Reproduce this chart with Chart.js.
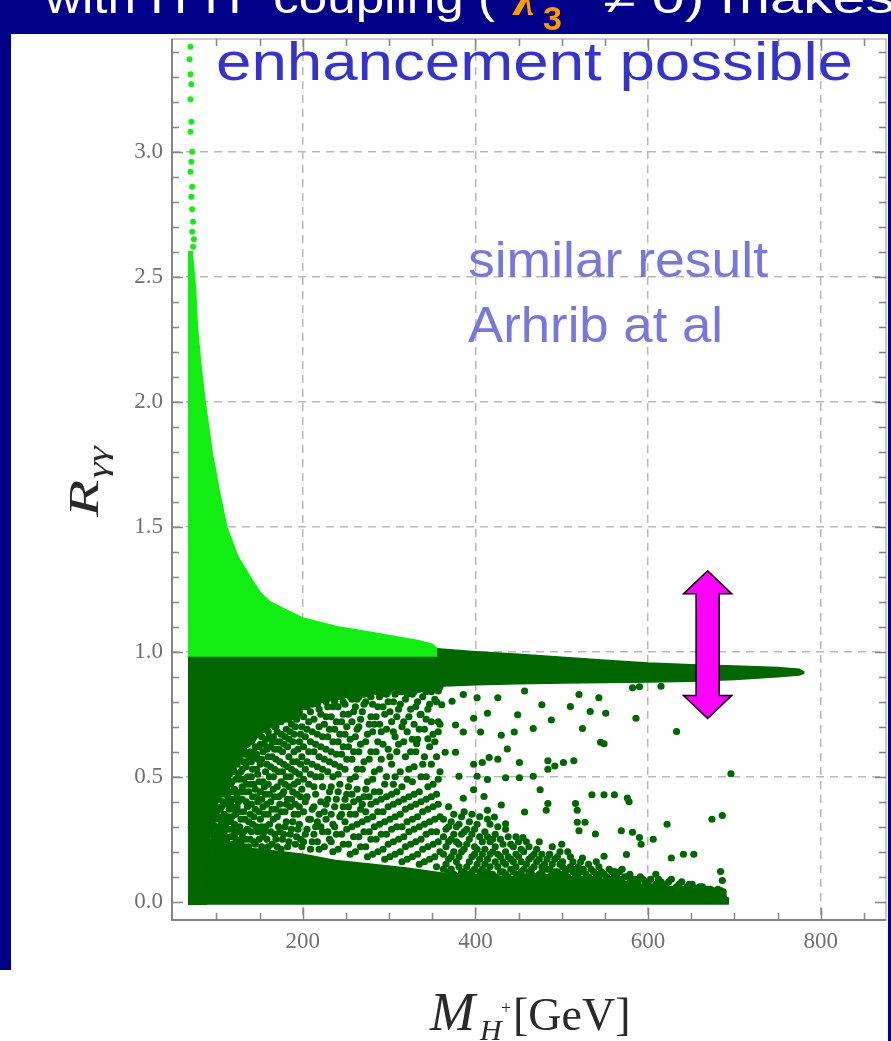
<!DOCTYPE html>
<html>
<head>
<meta charset="utf-8">
<script src="https://cdn.jsdelivr.net/npm/chart.js@4.4.1/dist/chart.umd.min.js"></script>
<style>
  html, body { margin: 0; padding: 0; background: #fff; overflow: hidden; }
  canvas { display: block; }
</style>
</head>
<body>
<canvas id="chart" width="891" height="1041"></canvas>
<script>
'use strict'

// axis ticks
const xTicks = [200, 400, 600, 800]
const yTicks = [0, 0.5, 1, 1.5, 2, 2.5, 3]

// light green plume above R = 0.98 (upper edge)
const lightX = [67, 72, 76, 78, 82, 87, 95, 103, 112, 125, 139, 150, 162, 185, 200, 240, 275, 333, 350, 356]
const lightR = [2.6, 2.6, 2.45, 2.3, 2.15, 2.0, 1.8, 1.65, 1.5, 1.38, 1.3, 1.24, 1.2, 1.16, 1.135, 1.1, 1.08, 1.045, 1.03, 1.012]

// loose light points at the top of the spike
const spikeDots = [[70, 3.42], [69, 3.37], [70, 3.31], [71, 3.27], [70, 3.21], [71, 3.12], [70, 3.08], [72, 3.0],
  [71, 2.96], [70, 2.92], [72, 2.86], [71, 2.82], [72, 2.77], [73, 2.72], [72, 2.68], [74, 2.65], [73, 2.62]]

// dark green band: top edge and top of the empty pocket below it (same x)
const bandX = [67, 88, 90, 95, 100, 110, 127, 150, 175, 197, 225, 255, 300, 350, 356, 400, 450, 500, 550, 600, 650, 700, 750, 775, 781]
const bandTop = [0.98, 0.98, 0.98, 0.98, 0.98, 0.98, 0.98, 0.98, 0.98, 0.98, 0.98, 0.98, 0.98, 0.98,
  1.012, 1.0, 0.99, 0.978, 0.966, 0.955, 0.948, 0.943, 0.937, 0.93, 0.918]
const pocketTop = [-0.01, -0.01, 0.22, 0.3, 0.4, 0.5, 0.59, 0.665, 0.73, 0.77, 0.8, 0.82, 0.845, 0.86,
  0.862, 0.868, 0.872, 0.875, 0.877, 0.879, 0.882, 0.889, 0.9, 0.907, 0.915]

// dark green floor (upper edge)
const floorX = [67, 90, 110, 150, 200, 238, 280, 320, 361, 400, 440, 484, 520, 560, 606, 640, 670, 684, 694]
const floorTop = [0.3, 0.23, 0.22, 0.21, 0.19, 0.165, 0.15, 0.135, 0.115, 0.11, 0.1, 0.094, 0.085, 0.07, 0.055, 0.045, 0.038, 0.03, 0.012]

// dots inside the pocket, column by column: [M, [R...]]
const pocketCols = [
  [94, [0.24, 0.29]], [97, [0.26, 0.33, 0.37]], [100, [0.23, 0.3, 0.36]], [103, [0.27, 0.34, 0.41, 0.45]],
  [106, [0.24, 0.31, 0.38, 0.47]], [109, [0.28, 0.35, 0.43, 0.49]], [112, [0.25, 0.32, 0.4, 0.46, 0.53]],
  [115, [0.29, 0.37, 0.44, 0.51]], [118, [0.23, 0.34, 0.41, 0.48, 0.56]], [121, [0.27, 0.31, 0.45, 0.52, 0.58]],
  [124, [0.24, 0.38, 0.43, 0.55, 0.6]], [127, [0.3, 0.36, 0.49, 0.57]], [130, [0.26, 0.41, 0.46, 0.53, 0.62]],
  [133, [0.22, 0.33, 0.44, 0.59, 0.64]], [136, [0.29, 0.38, 0.5, 0.56, 0.63]], [139, [0.25, 0.35, 0.47, 0.6, 0.66]],
  [142, [0.31, 0.42, 0.53, 0.58, 0.65]], [145, [0.23, 0.37, 0.45, 0.62, 0.68]], [148, [0.28, 0.4, 0.51, 0.57, 0.67]],
  [151, [0.33, 0.44, 0.55, 0.63, 0.69]], [154, [0.26, 0.38, 0.48, 0.6, 0.7]], [157, [0.3, 0.43, 0.52, 0.65, 0.71]],
  [160, [0.22, 0.35, 0.47, 0.58, 0.68]], [163, [0.28, 0.4, 0.54, 0.62, 0.72]], [166, [0.33, 0.45, 0.5, 0.66, 0.73]],
  [169, [0.25, 0.37, 0.57, 0.64, 0.7]], [172, [0.3, 0.42, 0.52, 0.61, 0.74]], [175, [0.21, 0.36, 0.48, 0.67, 0.72]],
  [178, [0.27, 0.44, 0.55, 0.63, 0.75]], [181, [0.32, 0.39, 0.5, 0.69, 0.76]], [184, [0.24, 0.46, 0.58, 0.65, 0.73]],
  [187, [0.29, 0.41, 0.53, 0.71, 0.77]], [190, [0.35, 0.47, 0.6, 0.67, 0.75]], [193, [0.26, 0.43, 0.56, 0.73, 0.78]],
  [196, [0.31, 0.38, 0.51, 0.64, 0.76]], [199, [0.22, 0.45, 0.58, 0.7, 0.79]],
  [203, [0.27, 0.4, 0.53, 0.66, 0.78]], [207, [0.33, 0.47, 0.6, 0.72, 0.8]], [211, [0.24, 0.37, 0.55, 0.68, 0.79]],
  [215, [0.3, 0.43, 0.5, 0.63, 0.81]], [219, [0.21, 0.35, 0.58, 0.7, 0.77]], [223, [0.28, 0.46, 0.53, 0.66, 0.82]],
  [227, [0.33, 0.39, 0.61, 0.74, 0.8]], [231, [0.25, 0.44, 0.56, 0.69, 0.83]], [235, [0.2, 0.31, 0.5, 0.64, 0.78]],
  [239, [0.27, 0.41, 0.59, 0.72, 0.82]], [243, [0.34, 0.47, 0.54, 0.67, 0.84]], [247, [0.23, 0.38, 0.62, 0.75, 0.8]],
  [251, [0.29, 0.43, 0.57, 0.7, 0.83]], [255, [0.19, 0.35, 0.49, 0.65, 0.82]], [259, [0.26, 0.4, 0.6, 0.76, 0.84]],
  [263, [0.31, 0.45, 0.53, 0.69, 0.81]], [267, [0.22, 0.37, 0.63, 0.73, 0.85]], [271, [0.28, 0.42, 0.56, 0.79, 0.83]],
  [275, [0.18, 0.33, 0.48, 0.67, 0.84]], [279, [0.25, 0.39, 0.6, 0.74, 0.82]], [283, [0.3, 0.44, 0.52, 0.71, 0.85]],
  [287, [0.2, 0.36, 0.64, 0.78, 0.84]], [291, [0.27, 0.41, 0.57, 0.68, 0.83]], [295, [0.17, 0.32, 0.47, 0.75, 0.85]],
  [299, [0.23, 0.38, 0.61, 0.8, 0.84]], [303, [0.29, 0.43, 0.55, 0.72, 0.86]], [307, [0.19, 0.34, 0.5, 0.66, 0.83]],
  [311, [0.25, 0.4, 0.63, 0.77, 0.85]], [315, [0.16, 0.3, 0.46, 0.7, 0.84]], [319, [0.22, 0.37, 0.58, 0.81, 0.86]],
  [323, [0.28, 0.42, 0.53, 0.74, 0.85]], [327, [0.18, 0.33, 0.48, 0.65, 0.83]], [331, [0.24, 0.39, 0.6, 0.78, 0.86]],
  [335, [0.15, 0.3, 0.44, 0.69, 0.85]], [339, [0.21, 0.36, 0.55, 0.82, 0.86]], [343, [0.27, 0.41, 0.5, 0.73, 0.84]],
  [347, [0.17, 0.32, 0.62, 0.79, 0.86]], [351, [0.23, 0.38, 0.47, 0.67, 0.85]], [355, [0.14, 0.28, 0.43, 0.58, 0.8]],
  [359, [0.2, 0.34, 0.52, 0.71, 0.86]],
  [363, [0.13, 0.19, 0.26, 0.33]], [369, [0.12, 0.17, 0.24, 0.3, 0.38]], [375, [0.11, 0.2, 0.27, 0.35]],
  [381, [0.14, 0.18, 0.23, 0.31]], [387, [0.12, 0.21, 0.28, 0.36]], [393, [0.11, 0.16, 0.25, 0.32]],
  [399, [0.13, 0.19, 0.22, 0.29]], [405, [0.12, 0.17, 0.26, 0.34]], [411, [0.11, 0.15, 0.21, 0.28]],
  [417, [0.14, 0.19, 0.24, 0.31]], [423, [0.1, 0.16, 0.22, 0.27]], [429, [0.12, 0.18, 0.25]],
  [435, [0.11, 0.15, 0.2, 0.29]], [441, [0.13, 0.17, 0.23]], [447, [0.1, 0.14, 0.19, 0.26]],
  [453, [0.12, 0.16, 0.21]], [459, [0.1, 0.15, 0.24]], [465, [0.11, 0.13, 0.18]], [471, [0.1, 0.16, 0.21]],
  [477, [0.12, 0.14, 0.19]], [483, [0.09, 0.13, 0.17]], [489, [0.11, 0.15, 0.22]], [495, [0.1, 0.12, 0.18]],
  [501, [0.09, 0.14, 0.16]], [507, [0.1, 0.13, 0.2]], [513, [0.09, 0.12, 0.16]], [519, [0.08, 0.11, 0.14]],
  [525, [0.09, 0.13]], [531, [0.08, 0.1, 0.15]], [537, [0.09, 0.12]], [543, [0.07, 0.1, 0.14]], [549, [0.08, 0.11]],
  [555, [0.07, 0.09, 0.13]], [561, [0.08, 0.1]], [567, [0.06, 0.09, 0.12]], [573, [0.07, 0.1]], [579, [0.06, 0.08, 0.11]],
  [585, [0.07, 0.09]], [591, [0.06, 0.1]], [597, [0.05, 0.08]], [603, [0.06, 0.09]], [609, [0.05, 0.07, 0.11]],
  [615, [0.06, 0.08]], [621, [0.05, 0.07]], [627, [0.05, 0.09]], [633, [0.04, 0.06]], [639, [0.05, 0.08]],
  [645, [0.04, 0.06]], [651, [0.045, 0.07]], [657, [0.04, 0.055]], [663, [0.035, 0.06]], [669, [0.035, 0.05]],
  [675, [0.03, 0.045]], [681, [0.03, 0.05]], [687, [0.025, 0.04]]
]

// second pass of pocket dots, between the columns above
const pocketCols2 = [
  [95.5, [0.21, 0.27, 0.31]], [98.5, [0.25, 0.3, 0.35, 0.39]], [101.5, [0.22, 0.28, 0.33, 0.42]],
  [104.5, [0.25, 0.3, 0.37, 0.44]], [107.5, [0.22, 0.33, 0.4, 0.45]], [110.5, [0.26, 0.3, 0.39, 0.47, 0.51]],
  [113.5, [0.23, 0.34, 0.42, 0.49]], [116.5, [0.26, 0.32, 0.39, 0.47, 0.54]], [119.5, [0.21, 0.29, 0.37, 0.44, 0.53]],
  [122.5, [0.25, 0.35, 0.41, 0.49, 0.57]], [125.5, [0.22, 0.28, 0.4, 0.51, 0.58]], [128.5, [0.24, 0.33, 0.44, 0.52, 0.6]],
  [131.5, [0.28, 0.36, 0.49, 0.56, 0.61]], [134.5, [0.25, 0.4, 0.47, 0.54, 0.63]], [137.5, [0.22, 0.32, 0.44, 0.58, 0.65]],
  [140.5, [0.28, 0.39, 0.5, 0.56, 0.64]], [143.5, [0.24, 0.34, 0.47, 0.6, 0.66]], [146.5, [0.3, 0.42, 0.53, 0.59, 0.67]],
  [149.5, [0.25, 0.36, 0.48, 0.62, 0.68]], [152.5, [0.22, 0.3, 0.41, 0.57, 0.66]], [155.5, [0.28, 0.35, 0.46, 0.63, 0.7]],
  [158.5, [0.25, 0.39, 0.55, 0.61, 0.69]], [161.5, [0.31, 0.43, 0.5, 0.66, 0.71]], [164.5, [0.23, 0.37, 0.58, 0.64, 0.72]],
  [167.5, [0.27, 0.42, 0.53, 0.61, 0.7]], [170.5, [0.22, 0.34, 0.46, 0.68, 0.73]], [173.5, [0.28, 0.39, 0.56, 0.64, 0.72]],
  [176.5, [0.25, 0.43, 0.52, 0.6, 0.74]], [179.5, [0.3, 0.36, 0.47, 0.66, 0.73]], [182.5, [0.22, 0.41, 0.54, 0.62, 0.75]],
  [185.5, [0.27, 0.38, 0.5, 0.68, 0.76]], [188.5, [0.32, 0.44, 0.56, 0.64, 0.74]], [191.5, [0.23, 0.39, 0.52, 0.7, 0.77]],
  [194.5, [0.29, 0.35, 0.48, 0.61, 0.75]], [197.5, [0.25, 0.42, 0.55, 0.67, 0.78]],
  [201, [0.24, 0.36, 0.49, 0.62, 0.74, 0.8]], [205, [0.29, 0.42, 0.56, 0.69, 0.78]], [209, [0.21, 0.33, 0.51, 0.64, 0.76, 0.81]],
  [213, [0.27, 0.38, 0.46, 0.6, 0.73, 0.8]], [217, [0.24, 0.32, 0.54, 0.67, 0.79]], [221, [0.3, 0.4, 0.5, 0.62, 0.75, 0.82]],
  [225, [0.22, 0.36, 0.57, 0.71, 0.81]], [229, [0.28, 0.41, 0.52, 0.66, 0.78, 0.83]], [233, [0.24, 0.35, 0.46, 0.6, 0.74, 0.82]],
  [237, [0.3, 0.38, 0.55, 0.69, 0.8]], [241, [0.21, 0.44, 0.51, 0.64, 0.78, 0.84]], [245, [0.27, 0.35, 0.59, 0.72, 0.82]],
  [249, [0.32, 0.41, 0.53, 0.67, 0.79, 0.84]], [253, [0.23, 0.38, 0.46, 0.62, 0.75, 0.83]], [257, [0.3, 0.43, 0.57, 0.72, 0.81]],
  [261, [0.2, 0.35, 0.5, 0.66, 0.78, 0.85]], [265, [0.26, 0.41, 0.6, 0.7, 0.82]], [269, [0.32, 0.39, 0.53, 0.76, 0.84]],
  [273, [0.22, 0.36, 0.45, 0.64, 0.8, 0.85]], [277, [0.28, 0.42, 0.57, 0.71, 0.83]], [281, [0.19, 0.34, 0.49, 0.68, 0.79, 0.85]],
  [285, [0.25, 0.4, 0.6, 0.74, 0.84]], [289, [0.31, 0.44, 0.53, 0.71, 0.82]], [293, [0.21, 0.36, 0.63, 0.78, 0.85]],
  [297, [0.27, 0.42, 0.5, 0.69, 0.83]], [301, [0.18, 0.33, 0.58, 0.76, 0.85]], [305, [0.24, 0.39, 0.47, 0.68, 0.8]],
  [309, [0.3, 0.44, 0.6, 0.74, 0.86]], [313, [0.2, 0.35, 0.52, 0.79, 0.84]], [317, [0.26, 0.41, 0.64, 0.72, 0.85]],
  [321, [0.17, 0.32, 0.49, 0.68, 0.83]], [325, [0.23, 0.38, 0.6, 0.77, 0.86]], [329, [0.29, 0.43, 0.54, 0.71, 0.84]],
  [333, [0.19, 0.34, 0.65, 0.8, 0.85]], [337, [0.25, 0.4, 0.5, 0.75, 0.86]], [341, [0.16, 0.31, 0.58, 0.69, 0.85]],
  [345, [0.22, 0.37, 0.46, 0.77, 0.86]], [349, [0.28, 0.42, 0.55, 0.72, 0.84]], [353, [0.18, 0.33, 0.64, 0.81, 0.86]],
  [357, [0.24, 0.39, 0.49, 0.68, 0.85]],
  [366, [0.15, 0.22, 0.29]], [372, [0.13, 0.18, 0.25, 0.32]], [378, [0.16, 0.24, 0.3]], [384, [0.12, 0.2, 0.27, 0.34]],
  [390, [0.14, 0.23, 0.29]], [396, [0.12, 0.18, 0.27, 0.35]], [402, [0.15, 0.21, 0.31]], [408, [0.13, 0.19, 0.24]],
  [414, [0.12, 0.17, 0.26, 0.33]], [420, [0.11, 0.2, 0.25]], [426, [0.14, 0.19, 0.3]], [432, [0.12, 0.16, 0.23]],
  [438, [0.1, 0.18, 0.26]], [444, [0.12, 0.16, 0.22]], [450, [0.11, 0.18, 0.24]], [456, [0.1, 0.13, 0.2]],
  [462, [0.12, 0.17, 0.22]], [468, [0.1, 0.14, 0.19]], [474, [0.11, 0.17, 0.24]], [480, [0.1, 0.15]],
  [486, [0.1, 0.13, 0.19]], [492, [0.09, 0.12, 0.17]], [498, [0.11, 0.15, 0.2]], [504, [0.1, 0.12]],
  [510, [0.09, 0.14, 0.18]], [516, [0.1, 0.13]], [522, [0.09, 0.12, 0.16]], [528, [0.08, 0.11]], [534, [0.09, 0.13]],
  [540, [0.08, 0.11, 0.16]], [546, [0.08, 0.12]], [552, [0.07, 0.1]], [558, [0.08, 0.12]], [564, [0.07, 0.1]],
  [570, [0.07, 0.09, 0.13]], [576, [0.06, 0.1]], [582, [0.07, 0.09]], [588, [0.06, 0.08]], [594, [0.06, 0.09]],
  [600, [0.06, 0.08]], [612, [0.06, 0.09]], [624, [0.05, 0.08]], [636, [0.05, 0.07]], [648, [0.05, 0.07]],
  [660, [0.045, 0.06]], [672, [0.04, 0.05]], [684, [0.035, 0.045]]
]

// isolated dots in the thin right part of the pocket
const sparseDots = [
  [414, 0.754], [426, 0.816], [430, 0.666], [437, 0.611], [445, 0.679], [449, 0.748], [451, 0.557], [457, 0.843],
  [467, 0.693], [477, 0.788], [484, 0.564], [488, 0.727], [492, 0.543], [502, 0.557], [514, 0.564], [510, 0.781],
  [520, 0.829], [524, 0.693], [533, 0.761], [543, 0.816], [549, 0.632], [551, 0.754], [586, 0.734], [633, 0.681],
  [696, 0.512], [582, 0.856], [590, 0.86], [615, 0.862],
  [475, 0.448], [484, 0.393], [482, 0.366], [516, 0.393], [518, 0.366], [535, 0.428], [549, 0.428], [561, 0.428],
  [578, 0.4], [518, 0.318], [527, 0.318], [539, 0.271], [520, 0.284], [569, 0.284], [582, 0.278], [590, 0.257],
  [592, 0.23], [606, 0.25], [622, 0.31], [674, 0.33], [686, 0.345], [627, 0.175], [641, 0.19], [653, 0.19],
  [684, 0.121], [686, 0.085], [575, 0.189], [549, 0.182], [561, 0.121], [524, 0.175], [500, 0.23], [486, 0.189],
  [455, 0.257], [435, 0.312], [457, 0.359], [422, 0.339], [414, 0.366], [430, 0.387], [410, 0.421], [398, 0.448],
  [386, 0.414], [414, 0.489], [426, 0.57], [416, 0.577], [408, 0.557], [435, 0.496], [451, 0.496], [467, 0.502],
  [484, 0.53], [402, 0.502], [377, 0.598], [365, 0.598], [381, 0.502], [398, 0.55], [386, 0.679], [377, 0.707],
  [398, 0.734], [406, 0.679], [357, 0.72], [361, 0.788], [336, 0.748], [332, 0.632], [345, 0.652], [357, 0.843],
  [386, 0.829], [373, 0.802], [402, 0.816], [545, 0.638], [576, 0.415]
]

// magenta double arrow (annotation)
const arrowX = 669
const arrowTop = 1.324
const arrowBottom = 0.733

const LIGHT = '#12ee12'
const DARK = '#006600'
const NAVY = '#000088'

const pts = (xs, ys) => xs.map((x, i) => ({ x, y: ys[i] }))
const pairs = list => list.map(([x, y]) => ({ x, y }))
const colPts = cols => cols.flatMap(([x, rs]) => rs.map(y => ({ x, y })))

// draw text squeezed / stretched to a target width
function fitText(c, str, x, y, font, color, width) {
  c.save()
  c.font = font
  c.fillStyle = color
  const w = c.measureText(str).width
  c.translate(x, y)
  c.scale(width / w, 1)
  c.fillText(str, 0, 0)
  c.restore()
}

const slide = {
  id: 'slide',
  beforeDraw(chart) {
    const c = chart.ctx
    c.save()
    c.fillStyle = '#ffffff'
    c.fillRect(0, 0, chart.width, chart.height)
    c.restore()
  },
  afterDatasetsDraw(chart) {
    // Mathematica style frame with inward ticks
    const c = chart.ctx
    const { left, right, top, bottom } = chart.chartArea
    const xs = chart.scales.x, ys = chart.scales.y
    c.save()
    c.strokeStyle = '#a8a8a8'
    c.lineWidth = 1.2
    c.strokeRect(left, top, right - left, bottom - top)
    c.strokeStyle = '#858585'
    c.lineWidth = 2
    c.beginPath()
    c.moveTo(left, top); c.lineTo(left, bottom); c.lineTo(right, bottom)
    c.stroke()
    c.lineWidth = 1.5
    c.beginPath()
    for (let m = 100; m <= 850; m += 50) {
      const px = Math.round(xs.getPixelForValue(m)) + 0.5
      const len = m % 200 === 0 ? 12 : 7
      c.moveTo(px, bottom); c.lineTo(px, bottom - len)
      c.moveTo(px, top); c.lineTo(px, top + len)
    }
    for (let k = 0; k <= 34; k++) {
      const py = Math.round(ys.getPixelForValue(k / 10)) + 0.5
      const len = k % 5 === 0 ? 11 : 7
      c.moveTo(left, py); c.lineTo(left + len, py)
      c.moveTo(right, py); c.lineTo(right - len, py)
    }
    c.stroke()
    c.restore()
  },
  afterDraw(chart) {
    const c = chart.ctx
    const W = chart.width, H = chart.height
    const xs = chart.scales.x, ys = chart.scales.y

    // slide frame
    c.save()
    c.fillStyle = NAVY
    c.fillRect(0, 0, W, 34)
    c.fillRect(0, 0, 11, 970)
    c.fillRect(888, 0, 3, H)

    // slide title, cut by the top of the picture
    c.beginPath()
    c.rect(0, 0, W, 34)
    c.clip()
    fitText(c, 'with H\u207AH\u207B coupling (', 45, 13, '44px "Liberation Sans"', '#ffffff', 450)
    c.fillStyle = '#ff9a00'
    c.font = 'italic bold 46px "Liberation Serif"'
    c.fillText('\u03BB', 514, 15)
    c.font = 'bold 34px "Liberation Sans"'
    c.fillText('3', 543, 30)
    fitText(c, '\u2260 0) makes', 603, 13, '44px "Liberation Sans"', '#ffffff', 292)
    c.restore()

    // arrow
    const ax = xs.getPixelForValue(arrowX)
    const a1 = ys.getPixelForValue(arrowTop)
    const a2 = ys.getPixelForValue(arrowBottom)
    const hw = 24, sw = 11.5, hl = 23
    c.save()
    c.beginPath()
    c.moveTo(ax, a1)
    c.lineTo(ax + hw, a1 + hl); c.lineTo(ax + sw, a1 + hl)
    c.lineTo(ax + sw, a2 - hl); c.lineTo(ax + hw, a2 - hl)
    c.lineTo(ax, a2)
    c.lineTo(ax - hw, a2 - hl); c.lineTo(ax - sw, a2 - hl)
    c.lineTo(ax - sw, a1 + hl); c.lineTo(ax - hw, a1 + hl)
    c.closePath()
    c.fillStyle = '#ff00ff'
    c.fill()
    c.strokeStyle = '#000000'
    c.lineWidth = 1.6
    c.lineJoin = 'miter'
    c.stroke()
    c.restore()

    // slide notes
    fitText(c, 'enhancement possible', 216, 80, '54px "Liberation Sans"', '#3434cc', 637)
    fitText(c, 'similar result', 468, 277, '50px "Liberation Sans"', '#7878dc', 300)
    fitText(c, 'Arhrib at al', 468, 342, '50px "Liberation Sans"', '#7878dc', 255)

    // axis titles
    c.save()
    c.fillStyle = '#2a2a2a'
    c.translate(98, 517)
    c.rotate(-Math.PI / 2)
    c.scale(1.45, 1)
    c.font = 'italic 42px "Liberation Serif"'
    c.fillText('R', 0, 0)
    const rw = c.measureText('R').width
    c.font = 'italic 28px "Liberation Serif"'
    c.fillText('\u03B3\u03B3', rw + 1, 9)
    c.restore()

    c.save()
    c.fillStyle = '#2a2a2a'
    c.font = 'italic 54px "Liberation Serif"'
    c.fillText('M', 430, 1030)
    c.font = 'italic 30px "Liberation Serif"'
    c.fillText('H', 480, 1040)
    c.font = '18px "Liberation Serif"'
    c.fillText('+', 501, 1014)
    c.font = '46px "Liberation Serif"'
    c.fillText('[GeV]', 513, 1030)
    c.restore()
  }
}

const gridColor = '#b8b8b8'
const tickFont = { family: '"Liberation Serif", serif', size: 23 }

new Chart(document.getElementById('chart'), {
  type: 'line',
  data: {
    datasets: [
      { data: pairs(spikeDots), showLine: false, pointRadius: 3, pointBorderWidth: 0, backgroundColor: LIGHT, pointBackgroundColor: LIGHT },
      {
        data: colPts(pocketCols).concat(colPts(pocketCols2), pairs(sparseDots)),
        showLine: false, pointRadius: 3.6, pointBorderWidth: 0, backgroundColor: DARK, pointBackgroundColor: DARK
      },
      { data: pts(lightX, lightR), pointRadius: 0, borderWidth: 1.5, borderColor: LIGHT, backgroundColor: LIGHT, fill: { value: 0.98 } },
      { data: pts(bandX, bandTop), pointRadius: 0, borderWidth: 1.5, borderColor: DARK, backgroundColor: DARK, fill: '+1' },
      { data: pts(bandX, pocketTop), pointRadius: 0, borderWidth: 1.5, borderColor: DARK, fill: false },
      { data: pts(floorX, floorTop), pointRadius: 0, borderWidth: 1.5, borderColor: DARK, backgroundColor: DARK, fill: { value: -0.012 } }
    ]
  },
  options: {
    responsive: false,
    devicePixelRatio: 1,
    animation: false,
    events: [],
    layout: { padding: { left: 0, right: 5, top: 39, bottom: 0 } },
    plugins: {
      legend: { display: false },
      tooltip: { enabled: false }
    },
    scales: {
      x: {
        type: 'linear',
        min: 48.6,
        max: 875.6,
        afterBuildTicks: s => { s.ticks = xTicks.map(v => ({ value: v })) },
        afterFit: s => { s.height = 121 },
        ticks: { font: tickFont, color: '#707070', padding: 8, maxRotation: 0, autoSkip: false, callback: v => String(v) },
        grid: { color: gridColor, lineWidth: 1.5, drawTicks: false },
        border: { display: false, dash: [8, 6] }
      },
      y: {
        type: 'linear',
        min: -0.073,
        max: 3.451,
        afterBuildTicks: s => { s.ticks = yTicks.map(v => ({ value: v })) },
        afterFit: s => { s.width = 172 },
        ticks: { font: tickFont, color: '#707070', padding: 9, autoSkip: false, callback: v => v.toFixed(1) },
        grid: {
          color: ctx => (ctx.tick && ctx.tick.value === 0 ? 'rgba(0,0,0,0)' : gridColor),
          lineWidth: 1.5,
          drawTicks: false
        },
        border: { display: false, dash: [8, 6] }
      }
    }
  },
  plugins: [slide]
})
</script>
</body>
</html>
